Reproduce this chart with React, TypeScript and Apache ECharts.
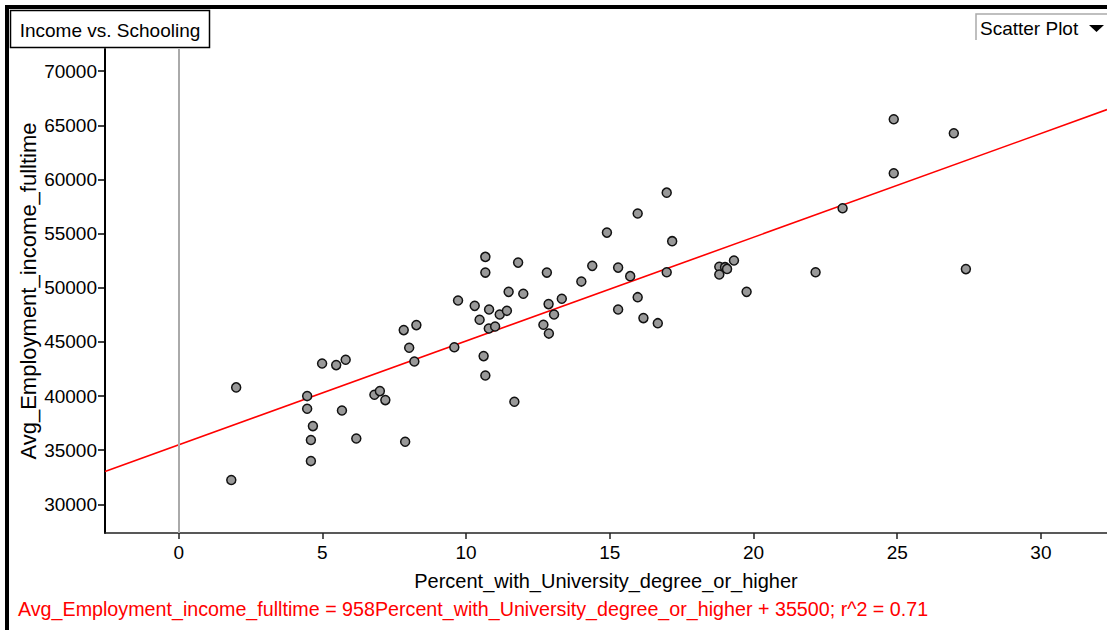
import React, { useEffect, useRef } from "react";
import * as echarts from "echarts";

const titleText = "Income vs. Schooling";
const chartTypeLabel = "Scatter Plot";
const xName = "Percent_with_University_degree_or_higher";
const yName = "Avg_Employment_income_fulltime";
const slope = 958;
const intercept = 35500;
const rSquared = 0.71;

const xTicks = [0, 5, 10, 15, 20, 25, 30];
const yTicks = [30000, 35000, 40000, 45000, 50000, 55000, 60000, 65000, 70000];

const percentUniversity = [
  2.0, 1.83, 4.47, 4.47, 4.67, 4.6, 4.6, 4.99, 5.48, 5.81,
  5.68, 6.18, 6.81, 7.0, 7.19, 7.83, 8.27, 8.02, 8.2, 7.88,
  9.59, 9.72, 10.3, 10.47, 10.67, 10.67, 10.8, 10.79, 11.01, 10.61,
  10.67, 11.17, 11.42, 11.48, 11.81, 11.99, 11.68, 12.69, 12.81, 12.87,
  12.88, 13.06, 13.33, 14.01, 14.39, 14.9, 15.29, 15.29, 15.71, 15.97,
  15.97, 16.17, 16.67, 16.98, 17.17, 16.98, 18.81, 19.01, 19.08, 18.81,
  19.32, 19.76, 22.16, 23.1, 24.88, 24.88, 26.97, 27.39,
];
const avgIncome = [
  40800, 32250, 40000, 38830, 37230, 35940, 34000, 43010, 42860, 43350,
  38670, 36090, 40120, 40460, 39630, 46090, 46550, 44460, 43190, 35780,
  44510, 48820, 48330, 47040, 52850, 51400, 47990, 46240, 46420, 43690,
  41900, 47530, 47870, 49620, 52320, 49440, 39470, 46580, 51400, 48490,
  45770, 47530, 48980, 50570, 52020, 55090, 51860, 47990, 51070, 56850,
  49130, 47200, 46730, 58780, 54300, 51430, 51930, 51900, 51740, 51220,
  52510, 49620, 51430, 57340, 65550, 60570, 64260, 51720,
];

const X_MIN = -2.564;
const X_MAX = 32.3;
const Y_MIN = 27360;
const Y_MAX = 72040;

const FONT = "Liberation Sans";

export default function App() {
  const ref = useRef<HTMLDivElement>(null);
  useEffect(() => {
    if (!ref.current) return;
    const chart = echarts.init(ref.current, null, { renderer: "svg" });
    const points = percentUniversity.map((x, i) => [x, avgIncome[i]]);
    const fit = [
      [X_MIN, slope * X_MIN + intercept],
      [X_MAX, slope * X_MAX + intercept],
    ];
    chart.setOption({
      animation: false,
      backgroundColor: "#ffffff",
      textStyle: { fontFamily: FONT },
      grid: { left: 105, top: 49, right: 0, bottom: 97, containLabel: false },
      xAxis: {
        type: "value",
        min: X_MIN,
        max: X_MAX,
        name: xName,
        nameLocation: "middle",
        nameGap: 38,
        nameTextStyle: { color: "#000", fontSize: 20, fontFamily: FONT },
        axisLine: { show: true, onZero: false, lineStyle: { color: "#222", width: 1.5 } },
        axisTick: { show: true, customValues: xTicks, length: 6, lineStyle: { color: "#222", width: 1.5 } },
        axisLabel: {
          customValues: xTicks,
          color: "#000",
          fontSize: 19,
          margin: 10,
          fontFamily: FONT,
          formatter: (v: number) => String(v),
        },
        splitLine: { show: false },
      },
      yAxis: {
        type: "value",
        min: Y_MIN,
        max: Y_MAX,
        name: yName,
        nameLocation: "middle",
        nameGap: 66,
        nameMoveOverlap: false,
        nameRotate: 90,
        nameTextStyle: { color: "#000", fontSize: 22, fontFamily: FONT },
        axisLine: { show: true, onZero: false, lineStyle: { color: "#000", width: 2 } },
        axisTick: { show: true, customValues: yTicks, length: 7, lineStyle: { color: "#000", width: 1.5 } },
        axisLabel: {
          customValues: yTicks,
          color: "#000",
          fontSize: 19,
          margin: 8,
          fontFamily: FONT,
          formatter: (v: number) => String(v),
        },
        splitLine: { show: false },
      },
      series: [
        {
          type: "line",
          data: fit,
          symbol: "none",
          lineStyle: { color: "#ff0000", width: 1.6 },
          z: 3,
          silent: true,
          markLine: {
            silent: true,
            symbol: "none",
            label: { show: false },
            lineStyle: { color: "#aaaaaa", width: 2, type: "solid" },
            data: [{ xAxis: 0 }],
          },
        },
        {
          type: "scatter",
          data: points,
          symbol: "circle",
          symbolSize: 9,
          itemStyle: { color: "#999999", borderColor: "#111111", borderWidth: 1.5, opacity: 1 },
          z: 4,
        },
      ],
      graphic: [
        { type: "line", shape: { x1: 5, y1: 7, x2: 1107, y2: 7 }, style: { stroke: "#000", lineWidth: 4 }, z: 10 },
        { type: "line", shape: { x1: 7, y1: 5, x2: 7, y2: 630 }, style: { stroke: "#000", lineWidth: 4 }, z: 10 },
        {
          type: "rect",
          shape: { x: 10.5, y: 10.5, width: 199, height: 37 },
          style: { fill: "#fff", stroke: "#000", lineWidth: 1.5 },
          z: 10,
        },
        {
          type: "text",
          x: 110,
          y: 30,
          style: { text: titleText, fill: "#000", font: `19px "${FONT}"`, align: "center", verticalAlign: "middle" },
          z: 11,
        },
        {
          type: "polyline",
          shape: { points: [[976, 40], [976, 14], [1107, 14]] },
          style: { stroke: "#aaaaaa", lineWidth: 1.5, fill: null },
          z: 10,
        },
        {
          type: "text",
          x: 980,
          y: 28,
          style: { text: chartTypeLabel, fill: "#000", font: `19px "${FONT}"`, align: "left", verticalAlign: "middle" },
          z: 11,
        },
        {
          type: "polygon",
          shape: { points: [[1089, 25], [1104, 25], [1096.5, 32]] },
          style: { fill: "#000" },
          z: 11,
        },
        {
          type: "text",
          x: 18,
          y: 609,
          style: {
            text: `${yName} = ${slope}${xName} + ${intercept}; r^2 = ${rSquared}`,
            fill: "#ff0000",
            font: `19.7px "${FONT}"`,
            align: "left",
            verticalAlign: "middle",
          },
          z: 11,
        },
      ],
    });
    return () => chart.dispose();
  }, []);
  return (
    <div
      ref={ref}
      style={{ position: "absolute", left: 0, top: 0, width: 1107, height: 630 }}
    />
  );
}
